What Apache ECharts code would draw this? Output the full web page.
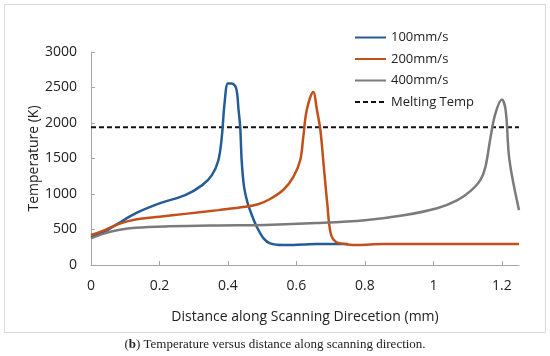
<!DOCTYPE html>
<html><head><meta charset="utf-8">
<script src="https://cdn.jsdelivr.net/npm/echarts@6/dist/echarts.min.js"></script>
<style>html,body{margin:0;padding:0;background:#fff}#c{width:550px;height:356px}</style>
</head><body><div id="c"></div>
<script>
const seriesNames = ['100mm/s', '200mm/s', '400mm/s', 'Melting Temp'];
const xTicks = [0, 0.2, 0.4, 0.6, 0.8, 1, 1.2];
const meltingTemp = 1940;
const s100 = [[0,390],[0.04,470],[0.08,586],[0.13,727],[0.2,867],[0.275,984],[0.325,1125],[0.353,1265],[0.372,1476],[0.382,1804],[0.39,2273],[0.4,2555],[0.411,2555],[0.424,2490],[0.431,2180],[0.436,1922],[0.44,1476],[0.447,1100],[0.457,880],[0.47,700],[0.484,539],[0.504,375],[0.523,305],[0.56,281],[0.62,288],[0.66,295],[0.75,295]];
const s200 = [[0,422],[0.04,490],[0.08,576],[0.13,640],[0.2,680],[0.275,720],[0.372,773],[0.45,820],[0.49,860],[0.523,930],[0.562,1060],[0.591,1242],[0.611,1476],[0.62,1804],[0.63,2180],[0.649,2437],[0.66,2180],[0.67,1898],[0.68,1382],[0.69,867],[0.70,446],[0.715,328],[0.75,290],[0.78,282],[0.85,295],[1.0,295],[1.25,295]];
const s400 = [[0,375],[0.04,446],[0.08,492],[0.13,525],[0.226,545],[0.372,558],[0.51,565],[0.66,590],[0.8,630],[0.913,700],[1.011,800],[1.069,910],[1.108,1040],[1.137,1195],[1.152,1382],[1.167,1804],[1.181,2133],[1.2,2330],[1.211,2180],[1.22,1570],[1.23,1242],[1.25,773]];
const meltLine = [[0, meltingTemp], [1.25, meltingTemp]];

const chart = echarts.init(document.getElementById('c'));
const font = 'Open Sans';
const axisCol = '#a6a6a6';
const mk = (name, data, color, extra) => Object.assign({
  name, type: 'line', data, showSymbol: false, symbol: 'none', smooth: 0.35,
  lineStyle: { color, width: 2.5 }, itemStyle: { color }
}, extra || {});
chart.setOption({
  animation: false,
  textStyle: { fontFamily: font },
  grid: { left: 91, right: 31, top: 52, bottom: 91 },
  legend: {
    orient: 'vertical', left: 349, top: 26, itemWidth: 31, itemHeight: 14, itemGap: 8.5,
    itemStyle: { opacity: 0 },
    textStyle: { fontSize: 13, color: '#222', fontFamily: font },
    data: seriesNames
  },
  xAxis: {
    type: 'value', min: 0, max: 1.25,
    name: 'Distance along Scanning Direcetion (mm)', nameLocation: 'middle', nameGap: 45,
    nameMoveOverlap: false,
    nameTextStyle: { fontSize: 14, color: '#222', fontFamily: font },
    axisLine: { show: true, lineStyle: { color: axisCol, width: 1 } },
    axisTick: { show: true, inside: true, length: 4, lineStyle: { color: axisCol }, customValues: xTicks },
    axisLabel: { fontSize: 14, color: '#222', margin: 14, customValues: xTicks },
    splitLine: { show: false }
  },
  yAxis: {
    type: 'value', min: 0, max: 3000, interval: 500,
    name: 'Temperature (K)', nameLocation: 'middle', nameGap: 50, nameRotate: 90,
    nameMoveOverlap: false,
    nameTextStyle: { fontSize: 14, color: '#222', fontFamily: font },
    axisLine: { show: true, lineStyle: { color: axisCol, width: 1 } },
    axisTick: { show: true, inside: true, length: 4, lineStyle: { color: axisCol } },
    axisLabel: { fontSize: 14, color: '#222', margin: 14, formatter: v => String(v) },
    splitLine: { show: false }
  },
  graphic: [
    { type: 'rect', shape: { x: 4.5, y: 4.5, width: 541, height: 328 }, style: { fill: 'none', stroke: '#d9d9d9', lineWidth: 1 }, silent: true, z: -1 },
    { type: 'text', left: 'center', top: 338, style: { text: '({b|b}) Temperature versus distance along scanning direction.', font: '13px "Liberation Serif"', fill: '#222',
      rich: { b: { fontWeight: 'bold', fontSize: 13, fontFamily: 'Liberation Serif', fill: '#222' } } } }
  ],
  series: [
    mk(seriesNames[0], s100, '#245c96'),
    mk(seriesNames[1], s200, '#c1501b'),
    mk(seriesNames[2], s400, '#7b7b7b'),
    mk(seriesNames[3], meltLine, '#111', { smooth: false, lineStyle: { color: '#111', width: 2, type: [5, 3] }, z: 1 })
  ]
});
</script></body></html>
